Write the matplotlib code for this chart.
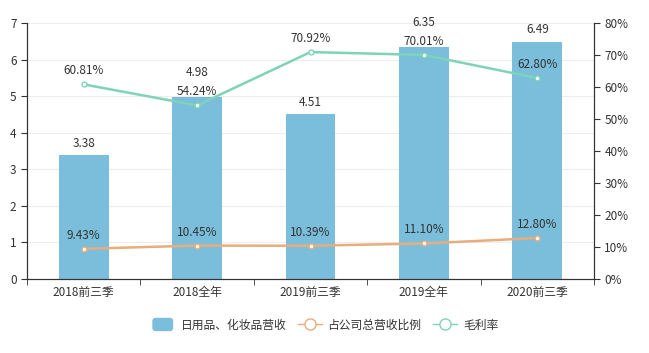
import matplotlib
matplotlib.use("Agg")
import matplotlib.pyplot as plt
import numpy as np
from matplotlib.lines import Line2D
from matplotlib.patches import FancyBboxPatch, Patch
from matplotlib.legend_handler import HandlerPatch

plt.rcParams['font.family'] = ['Noto Sans CJK SC', 'DejaVu Sans']

categories = ["2018前三季", "2018全年", "2019前三季", "2019全年", "2020前三季"]
revenue = [3.38, 4.98, 4.51, 6.35, 6.49]
share_pct = [9.43, 10.45, 10.39, 11.10, 12.80]
margin_pct = [60.81, 54.24, 70.92, 70.01, 62.80]
legend_labels = ["日用品、化妆品营收", "占公司总营收比例", "毛利率"]

bar_color = "#7bbedb"
orange = "#e8ad7c"
green = "#7fd3b8"
text_color = "#333333"
FS = 8.5

fig = plt.figure(figsize=(6.49, 3.53), dpi=100)
ax = fig.add_axes([27/649, 1-279/353, (594-27)/649, (279-23)/353])
ax2 = ax.twinx()

x = np.arange(len(categories))
ax.bar(x, revenue, width=0.44, color=bar_color, zorder=2)

ax.set_xlim(-0.5, len(categories) - 0.5)
ax.set_ylim(0, 7)
ax.set_yticks(range(0, 8))
ax.set_xticks(x)
ax.set_xticklabels(categories, fontsize=FS, color=text_color)
ax.set_xticks(np.arange(-0.5, len(categories)), minor=True)
ax.tick_params(axis='x', which='major', length=0, pad=5)
ax.tick_params(axis='x', which='minor', length=4, color=text_color)
ax.tick_params(axis='y', labelsize=FS, labelcolor=text_color, length=4, color=text_color)
ax.grid(axis='y', color="#ededed", linewidth=0.8, zorder=0)
ax.set_axisbelow(True)
ax.spines["top"].set_visible(False)
ax2.spines["top"].set_visible(False)
for s in ["left", "bottom", "right"]:
    ax.spines[s].set_color(text_color)
    ax2.spines[s].set_color(text_color)

ax2.plot(x, share_pct, color=orange, linewidth=1.8, marker='o', markersize=3.5,
         markerfacecolor='white', markeredgecolor=orange, markeredgewidth=1, zorder=3)
ax2.plot(x, margin_pct, color=green, linewidth=1.8, marker='o', markersize=3.5,
         markerfacecolor='white', markeredgecolor=green, markeredgewidth=1, zorder=3)
ax2.set_ylim(0, 80)
ax2.set_yticks(range(0, 81, 10))
ax2.set_yticklabels([f"{t}%" for t in range(0, 81, 10)])
ax2.tick_params(axis='y', labelsize=FS, labelcolor=text_color, length=4, color=text_color)

# labels (positions in pixels, with simple collision avoidance)
px_per_pt = fig.dpi / 72.0
line_label_px = []
for series in (share_pct, margin_pct):
    for xi, v in zip(x, series):
        ax2.annotate(f"{v:.2f}%", (xi, v), xytext=(0, 13.5 / px_per_pt), textcoords="offset points",
                     ha="center", va="center", fontsize=FS, color=text_color)
        ypx = ax2.transData.transform((xi, v))[1] + 13.5
        line_label_px.append((xi, ypx))

for xi, v in zip(x, revenue):
    ypx = ax.transData.transform((xi, v))[1] + 12
    for lx, ly in line_label_px:
        if lx == xi and abs(ly - ypx) < 14:
            ypx = ly + 19
    off = ypx - ax.transData.transform((xi, v))[1]
    ax.annotate(f"{v:.2f}", (xi, v), xytext=(0, off / px_per_pt), textcoords="offset points",
                ha="center", va="center", fontsize=FS, color=text_color)


class RoundPatchHandler(HandlerPatch):
    def create_artists(self, legend, orig_handle, xdescent, ydescent, width, height, fontsize, trans):
        p = FancyBboxPatch((-xdescent + 1, -ydescent - 1), width - 2, height + 2,
                           boxstyle="round,pad=0,rounding_size=2.5",
                           facecolor=orig_handle.get_facecolor(), edgecolor='none', transform=trans)
        return [p]


handles = [
    Patch(facecolor=bar_color, edgecolor='none'),
    Line2D([0], [0], color=orange, marker='o', markersize=8, markerfacecolor='white',
           markeredgecolor=orange, linewidth=1),
    Line2D([0], [0], color=green, marker='o', markersize=8, markerfacecolor='white',
           markeredgecolor=green, linewidth=1),
]
fig.legend(handles, legend_labels, loc='center', bbox_to_anchor=(0.5, 1-325/353), ncol=3,
           frameon=False, fontsize=FS, handlelength=2.0, handleheight=1.0,
           columnspacing=1.0, handletextpad=0.5, labelcolor=text_color,
           handler_map={Patch: RoundPatchHandler()})

fig.savefig("out.png", dpi=100)
